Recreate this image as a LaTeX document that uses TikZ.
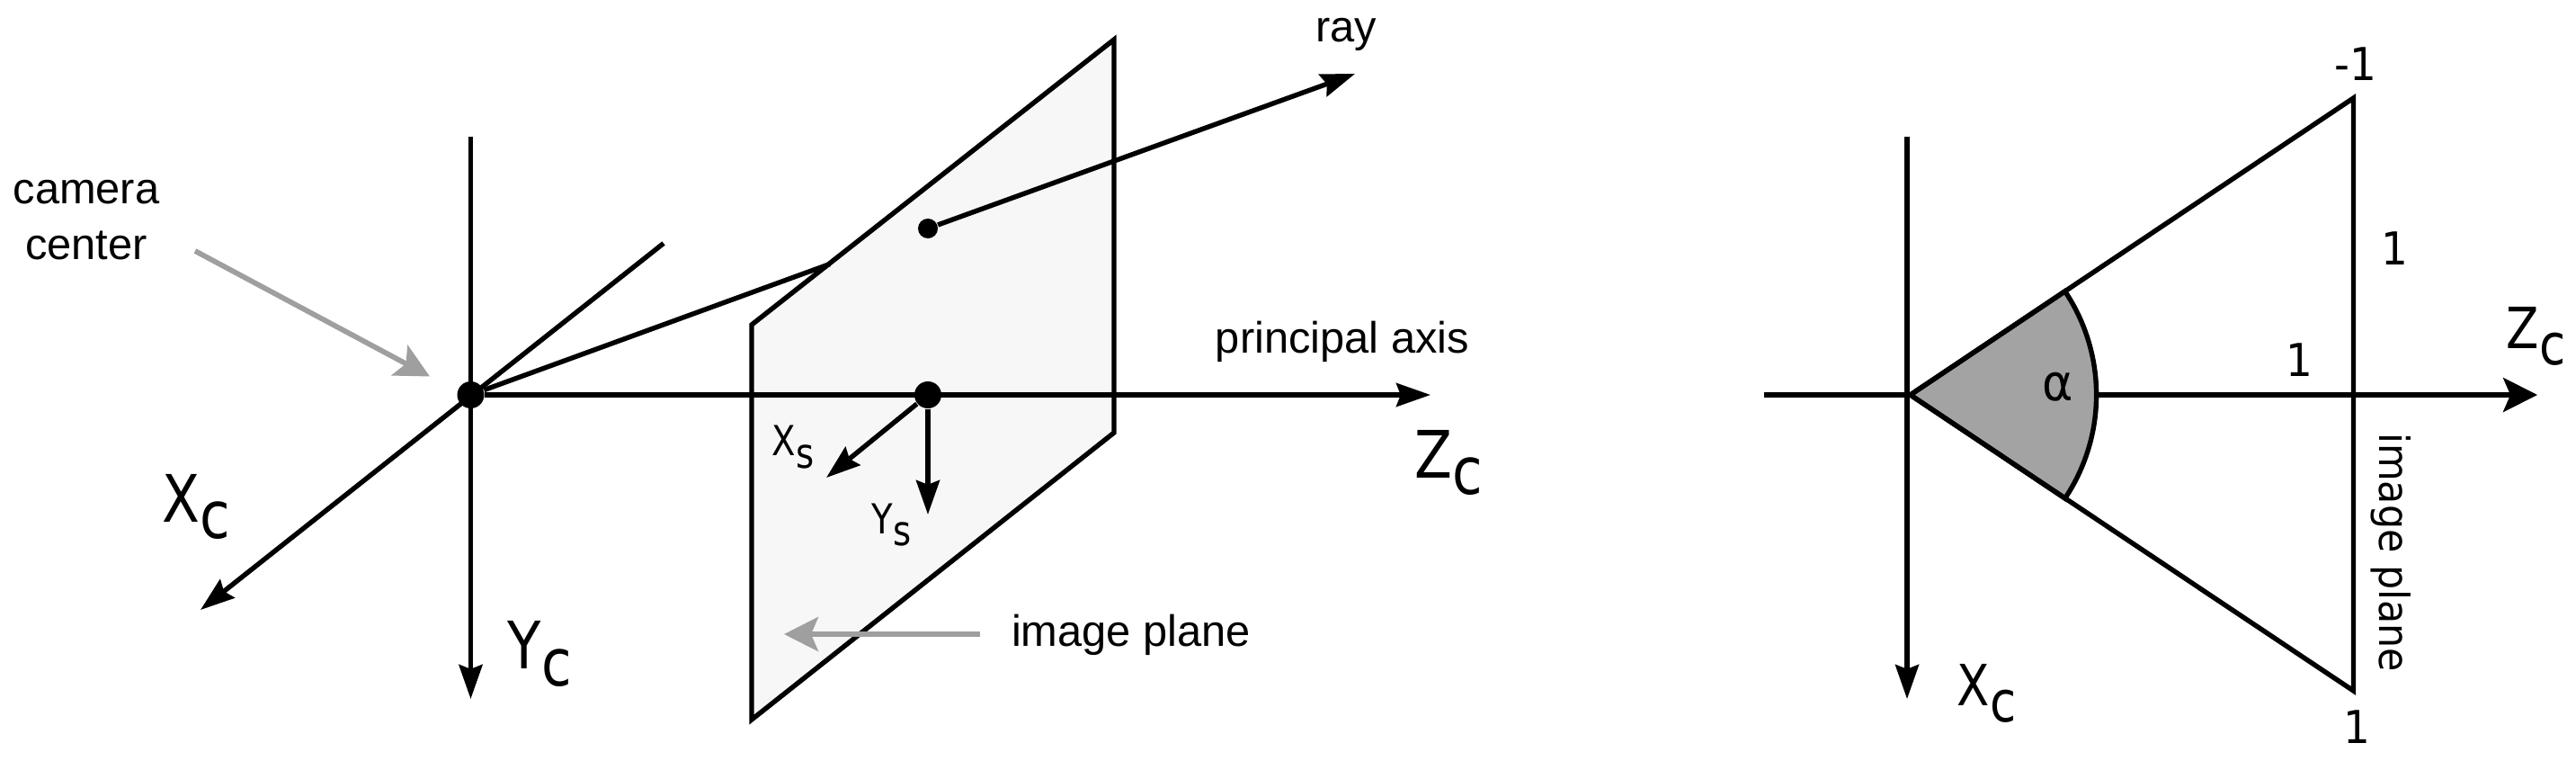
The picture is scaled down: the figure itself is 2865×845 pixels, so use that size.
\documentclass[tikz,border=0pt]{standalone}
\usepackage{fontspec}
\setmainfont{Liberation Sans}
\newfontfamily\tah[FakeStretch=0.84]{DejaVu Sans}
\newfontfamily\tahw[FakeStretch=0.93]{DejaVu Sans}
\usetikzlibrary{arrows.meta}
\definecolor{planefill}{HTML}{F7F7F7}
\definecolor{arrowgray}{HTML}{9F9F9F}
\definecolor{wedgegray}{HTML}{A3A3A3}
\newcommand{\axislabel}[3]{{\tah\fontsize{#1}{#1}\selectfont #2\raisebox{#3}{\MakeLowercase{c}}}}
\newcommand{\screenlabel}[2]{{\tah\fontsize{11.5pt}{11.5pt}\selectfont #1\raisebox{#2}{s}}}
\tikzset{
  ln/.style={line width=1.35pt,black},
  arr/.style={ln,-{Stealth[length=9.5pt,width=6.5pt,inset=1.2pt]}},
  graya/.style={line width=1.45pt,arrowgray,-{Stealth[length=9.5pt,width=9.5pt,inset=2pt]}},
  dot/.style={circle,fill=black,inner sep=0pt,minimum size=#1},
  lbl/.style={inner sep=0pt,anchor=base,font=\fontsize{12.2pt}{15.5pt}\selectfont},
  tlbl/.style={inner sep=0pt,anchor=base,font=\tahw\fontsize{12.6pt}{12.6pt}\selectfont},
  axl/.style={inner sep=0pt,anchor=base west}
}
\begin{document}
\begin{tikzpicture}[x=0.25pt,y=-0.25pt]
\useasboundingbox (0,0) rectangle (2865,845);
% --- left coordinates
\coordinate (ytop) at (523.5,152);
\coordinate (ytip) at (523.5,777);
\coordinate (xback) at (738,270.5);
\coordinate (xtip) at (223,678);
\coordinate (ztip) at (1591,439);
\coordinate (hit) at (923,293.5);
\coordinate (raytip) at (1507,82);
\coordinate (camfrom) at (217,279);
\coordinate (camto) at (478,418.5);
\coordinate (pa) at (836,361);
\coordinate (pb) at (1239,44);
\coordinate (pc) at (1239,481);
\coordinate (pd) at (836,800);
\coordinate (xstip) at (919,531);
\coordinate (ystip) at (1032,572);
\coordinate (imfrom) at (1090,705);
\coordinate (imto) at (872,705);
% plane
\draw[ln,fill=planefill,line join=miter] (pa) -- (pb) -- (pc) -- (pd) -- cycle;
% dots
\node[dot=7.5pt] (cam) at (523.5,439) {};
\node[dot=7.5pt] (prin) at (1032,439) {};
\node[dot=5.5pt] (raydot) at (1032,254) {};
% lines
\draw[arr] (ytop) -- (ytip);
\draw[arr] (xback) -- (xtip);
\draw[arr] (cam) -- (ztip);
\draw[ln] (cam) -- (hit);
\draw[arr] (raydot) -- (raytip);
\draw[arr] (prin) -- (xstip);
\draw[arr] (prin) -- (ystip);
\draw[graya] (camfrom) -- (camto);
\draw[graya] (imfrom) -- (imto);
% left labels
\node[lbl,align=center] (camlabel) at (96,288) {camera\\center};
\node[lbl] (raylabel) at (1497,47) {ray};
\node[lbl] (palabel) at (1493,392) {principal axis};
\node[lbl] (iplabel) at (1258,718) {image plane};
\node[axl] (xc) at (180,580) {\axislabel{18.2pt}{X}{-4.7pt}};
\node[axl] (yc) at (564,743.5) {\axislabel{18.2pt}{Y}{-4.7pt}};
\node[axl] (zc) at (1573,531) {\axislabel{18.2pt}{Z}{-4.7pt}};
\node[axl] (xs) at (858,506.5) {\screenlabel{X}{-3.4pt}};
\node[axl] (ys) at (969,593) {\screenlabel{Y}{-3.4pt}};
% --- right coordinates
\coordinate (rytop) at (2121,152);
\coordinate (rytip) at (2121,777);
\coordinate (rzback) at (1961.5,439);
\coordinate (rztip) at (2822,439);
\coordinate (apex) at (2124.6,439);
\coordinate (ttop) at (2617.5,109);
\coordinate (tbot) at (2617.5,768);
\coordinate (wtop) at (2296.6,323.8);
\draw[ln,-{Stealth[length=9.5pt,width=9.5pt,inset=2pt]}] (rzback) -- (rztip);
\draw[ln,fill=wedgegray,line join=miter] (apex) -- (wtop) arc[start angle=33.8,end angle=-33.8,radius=51.75pt] -- cycle;
\draw[ln,line join=miter] (apex) -- (ttop) -- (tbot) -- cycle;
\draw[arr] (rytop) -- (rytip);
% right labels
\node[tlbl] (am1) at (2620,90) {-1};
\node[tlbl] (one1) at (2663,294) {1};
\node[tlbl] (one2) at (2557,418) {1};
\node[tlbl] (one3) at (2621,826) {1};
\node[tlbl,font=\tahw\fontsize{14pt}{14pt}\selectfont] (alpha) at (2289,445) {α};
\node[tlbl,font=\tahw\fontsize{11.5pt}{11.5pt}\selectfont,rotate=-90,anchor=base] (ipr) at (2646,614) {image plane};
\node[axl] (xcr) at (2176,784) {\axislabel{15.8pt}{X}{-4.6pt}};
\node[axl] (zcr) at (2787,387) {\axislabel{15.8pt}{Z}{-4.6pt}};
\end{tikzpicture}
\end{document}
